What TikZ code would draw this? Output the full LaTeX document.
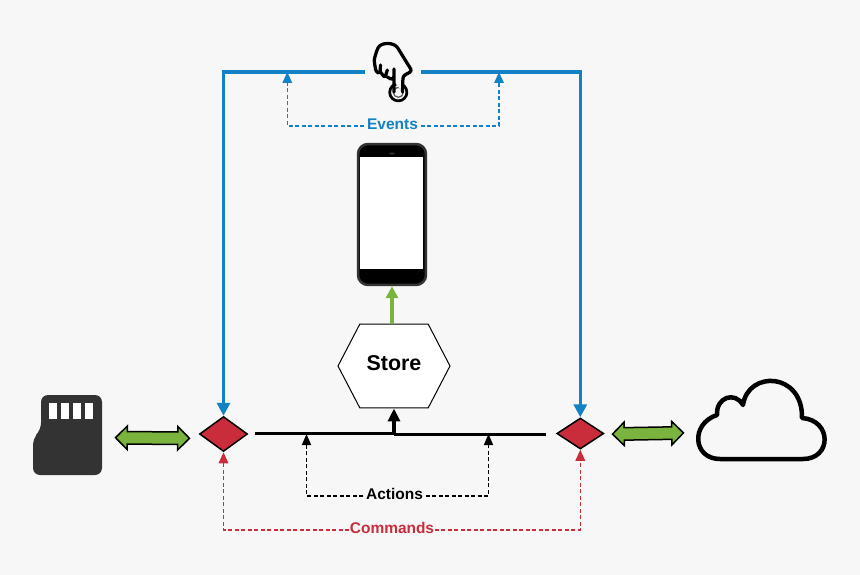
\documentclass[tikz,border=0pt]{standalone}
\usepackage{fontspec}
\setmainfont{Liberation Sans}
\usetikzlibrary{arrows.meta,shapes.geometric,shapes.symbols,shapes.arrows}

\definecolor{paper}{HTML}{F7F7F7}
\definecolor{eventblue}{HTML}{1282C4}
\definecolor{gatered}{HTML}{C92C3A}
\definecolor{leafgreen}{HTML}{7AB43E}
\definecolor{carddark}{HTML}{333333}

\tikzset{
  gate/.style={diamond,draw=black,fill=gatered,line width=0.03cm,inner sep=0pt,aspect=1.4},
  tag/.style={font=\bfseries\fontsize{8.8pt}{10pt}\selectfont,inner sep=0.05cm,text height=0.23cm,text depth=0.08cm},
  eventline/.style={draw=eventblue,line width=0.07cm,-{Triangle[length=0.26cm,width=0.26cm]}},
  eventdash/.style={draw=eventblue,line width=0.032cm,dash pattern=on 0.08cm off 0.05cm,-{Triangle[length=0.22cm,width=0.19cm]}},
  actiondash/.style={draw=black,line width=0.032cm,dash pattern=on 0.08cm off 0.05cm,-{Triangle[length=0.22cm,width=0.18cm]}},
  commanddash/.style={draw=gatered,line width=0.032cm,dash pattern=on 0.08cm off 0.05cm,-{Triangle[length=0.22cm,width=0.19cm]}},
  busline/.style={draw=black,line width=0.07cm},
  swap/.style={double arrow,draw=black,fill=leafgreen,line width=0.03cm,inner xsep=0pt,inner ysep=0.11cm,
    minimum height=1.48cm,double arrow head extend=0.11cm,double arrow tip angle=90},
  outline/.style={draw=black,line join=round,line cap=round}
}

\begin{document}
\begin{tikzpicture}[x=0.02cm,y=-0.02cm]
\useasboundingbox[fill=paper] (0,0) rectangle (860,575);

% gates and the store
\node[gate,minimum width=48*0.02cm,minimum height=35*0.02cm] (leftgate) at (223.5,434) {};
\node[gate,minimum width=47*0.02cm,minimum height=31*0.02cm] (rightgate) at (580.3,433.5) {};
\node[signal,signal to=east and west,signal pointer angle=125,draw=black,fill=white,line width=0.02cm,
  inner sep=0pt,minimum width=2.24cm,minimum height=1.68cm,text depth=0.12cm,
  font=\bfseries\fontsize{12.2pt}{14pt}\selectfont] (store) at (394,366) {Store};

% phone
\node[draw=carddark,fill=black,line width=0.05cm,rounded corners=0.2cm,minimum width=1.36cm,minimum height=2.82cm,inner sep=0pt] (phone) at (392,214.5) {};
\node[fill=white,inner sep=0pt,minimum width=1.26cm,minimum height=2.24cm] (screen) at (391.5,213) {};
\draw[fill=carddark,draw=none] (392,153.5) ellipse (3 and 1);

% touch
\node[minimum width=1.12cm,minimum height=1cm,inner sep=0pt] (touch) at (393,72) {};
\draw[outline,line width=0.055cm] (398.3,92.3) circle (8.6);
\draw[draw=black!65,line width=0.025cm] (398.3,92.3) circle (5);
\draw[outline,line width=0.065cm,rounded corners=0.05cm,fill=paper] (394,92) -- (394,69)
  (402.5,92) -- (403,76) -- (412,71) -- (399,50) .. controls (394,42) and (381,42) .. (377,50)
  -- (374,60) -- (376,72) -- (380,73.5) -- (380.5,65)
  (380.5,72) -- (385,78) -- (387.3,70)
  (387.3,77) -- (392.7,80) -- (394,76);

% sd card
\node[inner sep=0pt,minimum size=0pt] (card) at (67.5,435) {};
\draw[fill=carddark,draw=none,rounded corners=0.14cm] (41,395) -- (102,395) -- (102,475) -- (33,475) -- (33,438) -- (41,430) -- cycle;
\foreach \pos in {49,61,73,85}
\fill[white] (\pos,403) rectangle +(8.3,16);

% cloud
\node[inner sep=0pt,minimum size=0pt] (cloud) at (762,420) {};
\draw[outline,line width=0.09cm] (720,459) -- (803,459)
  .. controls (832,459) and (832,420) .. (802,418)
  .. controls (803,372) and (748,370) .. (743,405)
  .. controls (735,391) and (716,397) .. (717,415)
  .. controls (690,424) and (693,459) .. (720,459) -- cycle;

% green links
\node[swap,rotate=-0.5] (cardlink) at (152.5,438) {};
\node[swap,rotate=1,minimum height=1.42cm] (cloudlink) at (648,433.5) {};
\draw[draw=leafgreen,line width=0.065cm,-{Triangle[length=0.24cm,width=0.24cm]}] (phone.south |- store.north) -- (phone.south);

% bus
\coordinate (busleft) at (255,433.5);
\coordinate (busright) at (546,434.5);
\coordinate (busmid) at (394,434);
\coordinate (busa) at (306.5,434);
\coordinate (busb) at (488.5,434);
\draw[busline] (busleft) -- (busleft -| busmid);
\draw[busline] (busright) -- (busright -| busmid);
\draw[draw=black,line width=0.07cm,-{Triangle[length=0.26cm,width=0.24cm]}] (busmid) -- (store.south);

% events
\draw[eventline] (touch.west) -| (leftgate.north);
\draw[eventline] (touch.east) -| (rightgate.north);
\coordinate (topa) at (287.3,72);
\coordinate (topb) at (499,72);
\node[tag,text=eventblue] (events) at (392.5,125.7) {Events};
\draw[eventdash] (events.west) -| (topa);
\draw[eventdash] (events.east) -| (topb);

% actions
\node[tag] (actions) at (394.5,496) {Actions};
\draw[actiondash] (actions.west) -| (busa);
\draw[actiondash] (actions.east) -| (busb);

% commands
\node[tag,text=gatered,inner sep=0.01cm] (commands) at (392,530) {Commands};
\draw[commanddash] (commands.west) -| (leftgate.south);
\draw[commanddash] (commands.east) -| (rightgate.south);
\end{tikzpicture}
\end{document}
